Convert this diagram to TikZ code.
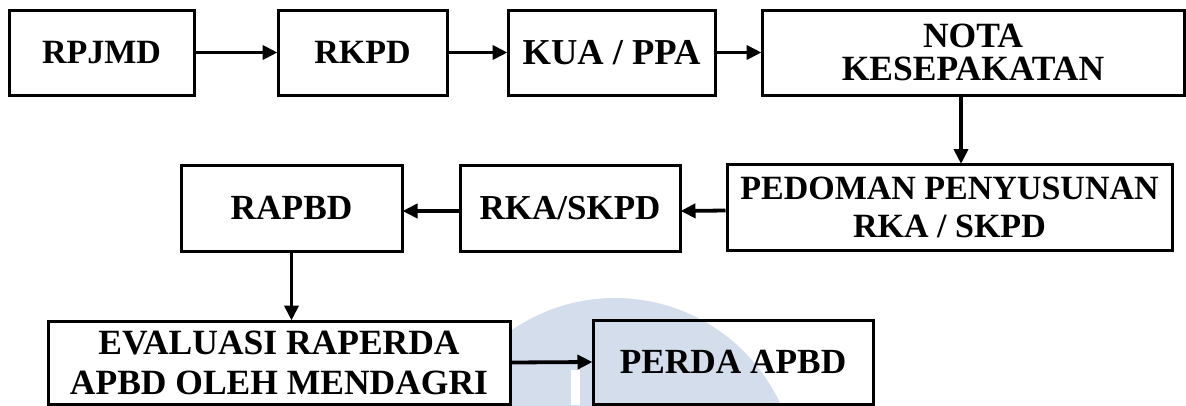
\documentclass[tikz,border=0pt]{standalone}
\usepackage{fontspec}
\setmainfont{Liberation Serif}
\usetikzlibrary{arrows.meta}
\definecolor{wmblue}{RGB}{211,221,235}
\tikzset{
  box/.style={draw=black, line width=3pt, inner sep=0pt, align=center},
  txt/.style 2 args={font=\fontsize{#1}{#2}\selectfont\bfseries},
  flow/.style={draw=black, line width=3.8pt, -{Triangle[length=15pt,width=14pt]}, shorten >=-1pt}
}
\begin{document}
\begin{tikzpicture}[x=1pt,y=-1pt]
\useasboundingbox (0,0) rectangle (1186,405);
% watermark
\begin{scope}
  \clip (511,0) rectangle (1186,405);
  \fill[wmblue] (615,480) circle (182);
\end{scope}
\fill[white] (571,370) rectangle (580,405);
% row 1
\node[box, txt={34}{33}, minimum width=185pt, minimum height=85pt] (rpjmd) at (101.5,52.5) {RPJMD};
\node[box, txt={34}{33}, minimum width=169pt, minimum height=85pt] (rkpd) at (362.5,52.5) {RKPD};
\node[box, txt={36.5}{33}, minimum width=207pt, minimum height=85pt] (kua) at (611.5,52.5) {KUA / PPA};
\node[box, txt={35.5}{33}, minimum width=422pt, minimum height=85pt] (nota) at (973,52.5) {NOTA\\KESEPAKATAN};
% row 2
\node[box, txt={35.3}{33}, minimum width=221pt, minimum height=86pt] (rapbd) at (291.5,208) {RAPBD};
\node[box, txt={35}{33}, minimum width=220pt, minimum height=86pt] (rka) at (570,208) {RKA/SKPD};
\node[box, txt={34}{38}, minimum width=445pt, minimum height=86pt] (ped) at (949.5,207.5) {PEDOMAN PENYUSUNAN\\RKA / SKPD};
% row 3
\node[box, txt={35.5}{40}, minimum width=462pt, minimum height=83pt] (eval) at (279,362.5) {EVALUASI RAPERDA\\APBD OLEH MENDAGRI};
\node[box, txt={35.3}{33}, minimum width=280pt, minimum height=84pt] (perda) at (733,362) {PERDA APBD};
% connectors
\coordinate (vx) at (961,0);
\draw[flow] (rpjmd) -- (rkpd);
\draw[flow] (rkpd) -- (kua);
\draw[flow] (kua) -- (nota);
\draw[flow] (nota.south -| vx) -- (ped.north -| vx);
\draw[flow] ([yshift=-3pt]ped.west) -- ([yshift=-3pt]rka.east);
\draw[flow] ([yshift=-3pt]rka.west) -- ([yshift=-3pt]rapbd.east);
\draw[flow] (rapbd.south) -- (eval.north -| rapbd.south);
\draw[flow] (eval.east) -- (perda.west);
\end{tikzpicture}
\end{document}
